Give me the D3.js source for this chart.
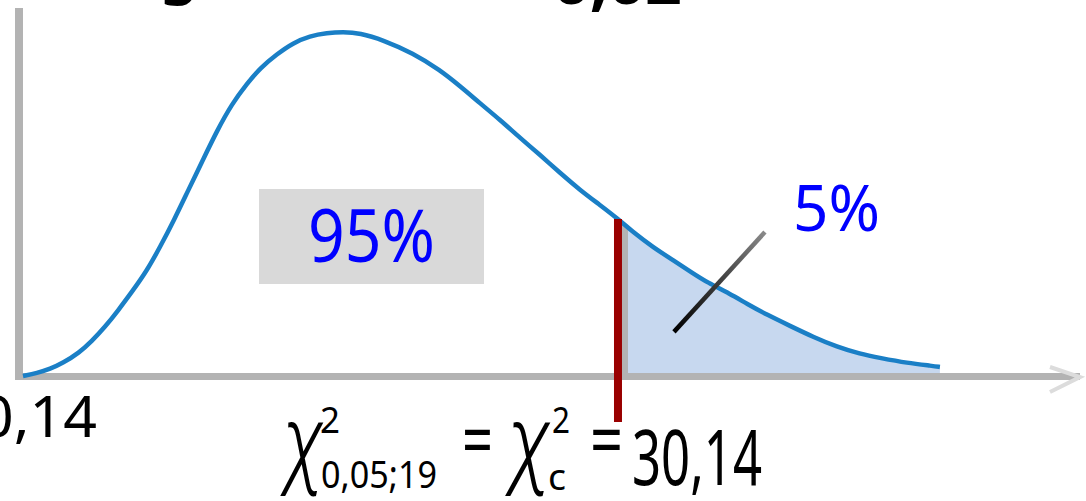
<!DOCTYPE html>
<html>
<head>
<meta charset="utf-8">
<script src="https://cdn.jsdelivr.net/npm/d3@7"></script>
<style>
  html, body { margin: 0; padding: 0; background: #fff; overflow: hidden; }
  svg { display: block; }
</style>
</head>
<body>
<svg id="chart" width="1086" height="501"></svg>
<script>
// Chi-square density curve (19 degrees of freedom), sampled points
const statValues = [0.05, 0.76, 1.42, 2.07, 2.88, 3.54, 4.20, 4.85, 5.56, 6.27,
  6.98, 7.69, 8.39, 9.15, 9.86, 10.62, 11.38, 12.04, 12.90, 13.70,
  14.56, 15.42, 16.23, 17.09, 18.26, 19.77, 21.14, 22.15, 23.16, 24.17,
  25.18, 26.20, 27.21, 28.22, 29.23, 30.09, 30.90, 31.91, 32.92, 33.93,
  34.64, 35.80, 36.66, 37.68, 38.84, 40.00, 41.22, 42.38, 43.39, 44.76,
  46.07, 46.42];
const densityValues = [0.0000, 0.0006, 0.0014, 0.0026, 0.0046, 0.0070, 0.0098, 0.0130, 0.0168, 0.0207,
  0.0257, 0.0311, 0.0369, 0.0431, 0.0489, 0.0543, 0.0583, 0.0614, 0.0642, 0.0664,
  0.0678, 0.0684, 0.0686, 0.0684, 0.0670, 0.0644, 0.0610, 0.0578, 0.0544, 0.0511,
  0.0475, 0.0441, 0.0405, 0.0371, 0.0341, 0.0315, 0.0287, 0.0257, 0.0231, 0.0205,
  0.0187, 0.0164, 0.0144, 0.0122, 0.0100, 0.0078, 0.0058, 0.0044, 0.0036, 0.0026,
  0.0020, 0.0018];

// Critical value of the right-tailed test and the region shares
const criticalValue = 30.14;
const criticalText = "30,14";
const axisStartText = "0,14";
const regionLabels = ["95%", "5%"];
const subscriptText = "0,05;19";
const titleWords = ["Região crítica", "0,02"];

// Pointer from the "5%" label into the shaded tail (statistic, density)
const pointerFrom = [37.57, 0.0287];
const pointerTo = [32.97, 0.0088];

const points = statValues.map((s, i) => ({ s, d: densityValues[i] }));

const svg = d3.select("#chart");
const x = d3.scaleLinear().domain([0, 50]).range([22, 1010.7]);
const y = d3.scaleLinear().domain([0, 0.07]).range([376, 25.0]);

const sans = "'Comic Sans MS', 'Noto Sans', 'DejaVu Sans', sans-serif";
const greek = "Roboto, 'Open Sans', 'Liberation Serif', serif";

// density at the critical value
function densityAt(v) {
  for (let i = 0; i < points.length - 1; i++) {
    const a = points[i], b = points[i + 1];
    if (v >= a.s && v <= b.s) return a.d + (b.d - a.d) * (v - a.s) / (b.s - a.s);
  }
  return 0;
}

const defs = svg.append("defs");

// shaded rejection region (area under the curve, right of the critical value)
const area = d3.area()
  .x(d => x(d.s)).y0(y(0)).y1(d => y(d.d))
  .curve(d3.curveBasis);
defs.append("clipPath").attr("id", "under-curve")
  .append("path").attr("d", area(points));

const tail = svg.append("g").attr("clip-path", "url(#under-curve)");
tail.append("rect")
  .attr("x", x(criticalValue) + 4).attr("y", 0)
  .attr("width", x(50) - x(criticalValue)).attr("height", y(0))
  .attr("fill", "#c7d8ef");
tail.append("rect")
  .attr("x", x(criticalValue) + 4).attr("y", 0)
  .attr("width", 6).attr("height", y(0))
  .attr("fill", "#b3b3b3");

// axes
svg.append("line")
  .attr("x1", 19).attr("x2", 19).attr("y1", 8).attr("y2", 380)
  .attr("stroke", "#b3b3b3").attr("stroke-width", 8);
svg.append("line")
  .attr("x1", 15).attr("x2", 1080).attr("y1", 376.5).attr("y2", 376.5)
  .attr("stroke", "#b3b3b3").attr("stroke-width", 7);
svg.append("path")
  .attr("d", "M1050,367 L1080,377 L1050,392")
  .attr("fill", "none").attr("stroke", "#dcdcdc").attr("stroke-width", 4);

// density curve
const line = d3.line().x(d => x(d.s)).y(d => y(d.d)).curve(d3.curveBasis);
svg.append("path")
  .attr("d", line(points))
  .attr("fill", "none")
  .attr("stroke", "#1a7fc6")
  .attr("stroke-width", 4.5)
  .attr("stroke-linejoin", "round");

// critical value marker
svg.append("line")
  .attr("x1", x(criticalValue)).attr("x2", x(criticalValue))
  .attr("y1", y(densityAt(criticalValue))).attr("y2", 422)
  .attr("stroke", "#990000").attr("stroke-width", 8);

// pointer for the tail label
const grad = defs.append("linearGradient").attr("id", "pointer-grad")
  .attr("gradientUnits", "userSpaceOnUse")
  .attr("x1", x(pointerFrom[0])).attr("y1", y(pointerFrom[1]))
  .attr("x2", x(pointerTo[0])).attr("y2", y(pointerTo[1]));
grad.append("stop").attr("offset", "0").attr("stop-color", "#8a8a8a");
grad.append("stop").attr("offset", "0.45").attr("stop-color", "#444");
grad.append("stop").attr("offset", "1").attr("stop-color", "#000");
svg.append("line")
  .attr("x1", x(pointerFrom[0])).attr("y1", y(pointerFrom[1]))
  .attr("x2", x(pointerTo[0])).attr("y2", y(pointerTo[1]))
  .attr("stroke", "url(#pointer-grad)").attr("stroke-width", 4.5);

// acceptance region label box
svg.append("rect")
  .attr("x", 259).attr("y", 189).attr("width", 225).attr("height", 95)
  .attr("fill", "#d9d9d9");

function label(str, o) {
  const sy = o.sy || 1;
  const t = svg.append("text")
    .attr("transform", `translate(${o.x},${o.y}) scale(1,${sy})`)
    .attr("font-family", o.family || sans)
    .attr("font-size", o.size)
    .attr("font-style", o.style || "normal")
    .attr("font-weight", o.weight || "normal")
    .attr("fill", o.fill || "#000")
    .text(str);
  if (o.width) t.attr("textLength", o.width).attr("lengthAdjust", "spacingAndGlyphs");
  return t;
}

label(regionLabels[0], { x: 308, y: 262, size: 73, width: 127, fill: "#0000ff" });
label(regionLabels[1], { x: 793, y: 231, size: 63, width: 87, fill: "#0000ff" });

// axis start label
label(axisStartText, { x: -20, y: 437, size: 56, width: 117 });

// critical value equation: χ²(0,05;19) = χ²c = 30,14
label("χ", { x: 283, y: 476, size: 72, sy: 1.4, width: 40, family: greek, style: "italic", weight: 300 });
label("2", { x: 320, y: 433, size: 36, width: 20 });
label(subscriptText, { x: 321, y: 488, size: 39, width: 116 });
label("=", { x: 462, y: 466, size: 75, width: 31 });
label("χ", { x: 508, y: 476, size: 72, sy: 1.4, width: 42, family: greek, style: "italic", weight: 300 });
label("2", { x: 552, y: 433, size: 36, width: 18 });
label("c", { x: 548, y: 490, size: 37, width: 18 });
label("=", { x: 590, y: 466, size: 75, width: 33 });
label(criticalText, { x: 632, y: 485, size: 77, width: 130 });

// title line, clipped by the top edge
const title = label(titleWords[0], { x: 80, y: -8, size: 60, weight: "bold" });
const gx = title.node().getStartPositionOfChar(2).x;
title.attr("transform", `translate(${80 + (160 - 80 - gx)},-8)`);
label(titleWords[1], { x: 553, y: 4, size: 60, width: 129, weight: "bold" });
</script>
</body>
</html>
